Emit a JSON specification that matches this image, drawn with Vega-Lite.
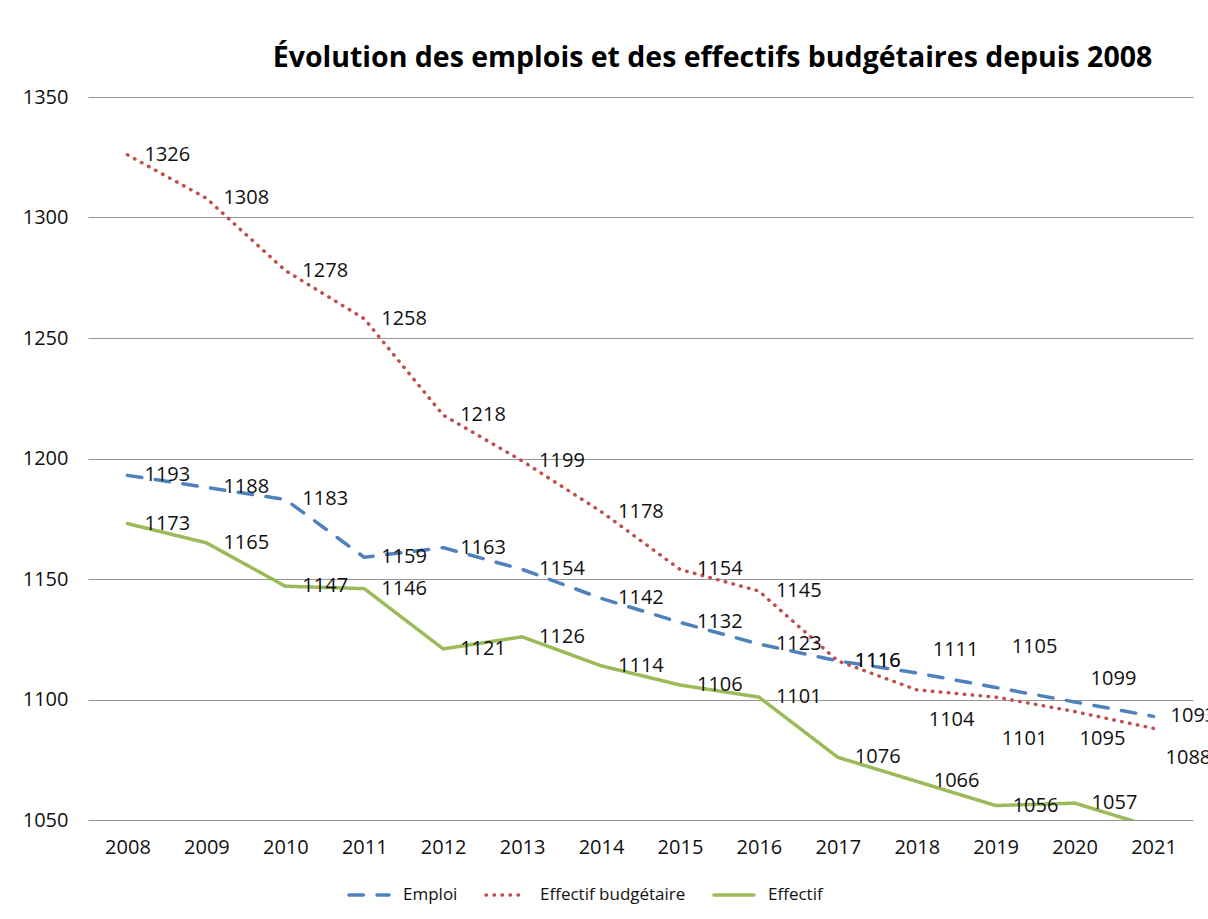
{
  "$schema": "https://vega.github.io/schema/vega-lite/v6.json",
  "autosize": {"type": "none"},
  "padding": {"left": 88, "top": 97, "right": 15, "bottom": 99},
  "width": 1105,
  "height": 723,
  "background": "white",
  "title": {
    "text": "Évolution des emplois et des effectifs budgétaires depuis 2008",
    "anchor": "middle",
    "frame": "group",
    "dx": 72,
    "offset": 15,
    "font": "Open Sans",
    "fontSize": 28.5,
    "fontWeight": "bold",
    "color": "#000000"
  },
  "data": {
    "values": [
      {"year": "2008", "series": "Emploi", "value": 1193},
      {"year": "2009", "series": "Emploi", "value": 1188},
      {"year": "2010", "series": "Emploi", "value": 1183},
      {"year": "2011", "series": "Emploi", "value": 1159},
      {"year": "2012", "series": "Emploi", "value": 1163},
      {"year": "2013", "series": "Emploi", "value": 1154},
      {"year": "2014", "series": "Emploi", "value": 1142},
      {"year": "2015", "series": "Emploi", "value": 1132},
      {"year": "2016", "series": "Emploi", "value": 1123},
      {"year": "2017", "series": "Emploi", "value": 1116},
      {"year": "2018", "series": "Emploi", "value": 1111},
      {"year": "2019", "series": "Emploi", "value": 1105},
      {"year": "2020", "series": "Emploi", "value": 1099},
      {"year": "2021", "series": "Emploi", "value": 1093},
      {"year": "2008", "series": "Effectif budgétaire", "value": 1326},
      {"year": "2009", "series": "Effectif budgétaire", "value": 1308},
      {"year": "2010", "series": "Effectif budgétaire", "value": 1278},
      {"year": "2011", "series": "Effectif budgétaire", "value": 1258},
      {"year": "2012", "series": "Effectif budgétaire", "value": 1218},
      {"year": "2013", "series": "Effectif budgétaire", "value": 1199},
      {"year": "2014", "series": "Effectif budgétaire", "value": 1178},
      {"year": "2015", "series": "Effectif budgétaire", "value": 1154},
      {"year": "2016", "series": "Effectif budgétaire", "value": 1145},
      {"year": "2017", "series": "Effectif budgétaire", "value": 1116},
      {"year": "2018", "series": "Effectif budgétaire", "value": 1104},
      {"year": "2019", "series": "Effectif budgétaire", "value": 1101},
      {"year": "2020", "series": "Effectif budgétaire", "value": 1095},
      {"year": "2021", "series": "Effectif budgétaire", "value": 1088},
      {"year": "2008", "series": "Effectif", "value": 1173},
      {"year": "2009", "series": "Effectif", "value": 1165},
      {"year": "2010", "series": "Effectif", "value": 1147},
      {"year": "2011", "series": "Effectif", "value": 1146},
      {"year": "2012", "series": "Effectif", "value": 1121},
      {"year": "2013", "series": "Effectif", "value": 1126},
      {"year": "2014", "series": "Effectif", "value": 1114},
      {"year": "2015", "series": "Effectif", "value": 1106},
      {"year": "2016", "series": "Effectif", "value": 1101},
      {"year": "2017", "series": "Effectif", "value": 1076},
      {"year": "2018", "series": "Effectif", "value": 1066},
      {"year": "2019", "series": "Effectif", "value": 1056},
      {"year": "2020", "series": "Effectif", "value": 1057},
      {"year": "2021", "series": "Effectif", "value": 1047}
    ]
  },
  "encoding": {
    "x": {
      "field": "year",
      "type": "ordinal",
      "scale": {"type": "point", "padding": 0.5},
      "axis": {
        "title": null,
        "ticks": false,
        "domain": false,
        "grid": false,
        "labelAngle": 0,
        "labelPadding": 17,
        "labelFont": "Open Sans",
        "labelFontSize": 20,
        "labelColor": "#111111"
      }
    },
    "y": {
      "field": "value",
      "type": "quantitative",
      "scale": {"domain": [1050, 1350], "nice": false, "zero": false},
      "axis": {
        "title": null,
        "format": "d",
        "values": [1050, 1100, 1150, 1200, 1250, 1300, 1350],
        "ticks": false,
        "domain": false,
        "grid": true,
        "gridColor": "#969696",
        "gridWidth": 1,
        "labelPadding": 20,
        "labelFont": "Open Sans",
        "labelFontSize": 20,
        "labelColor": "#111111"
      }
    }
  },
  "layer": [
    {
      "mark": {"type": "line", "strokeWidth": 3.5, "strokeCap": "round", "strokeJoin": "round", "clip": true},
      "encoding": {
        "color": {
          "field": "series",
          "type": "nominal",
          "scale": {
            "domain": ["Emploi", "Effectif budgétaire", "Effectif"],
            "range": ["#4F81BD", "#C0504D", "#9BBB59"]
          },
          "legend": {
            "orient": "none",
            "legendX": 259,
            "legendY": 776,
            "direction": "horizontal",
            "title": null,
            "symbolType": "stroke",
            "symbolSize": 1600,
            "symbolStrokeWidth": 3.5,
            "labelFont": "Open Sans",
            "labelFontSize": 17,
            "labelColor": "#111111",
            "labelOffset": 12,
            "columnPadding": 21,
            "encode": {"symbols": {"update": {"strokeCap": {"value": "round"}}}}
          }
        },
        "strokeDash": {
          "field": "series",
          "type": "nominal",
          "scale": {
            "domain": ["Emploi", "Effectif budgétaire", "Effectif"],
            "range": [[14.5, 13.5], [0.5, 7.5], [1, 0]]
          },
          "legend": {
            "orient": "none",
            "legendX": 259,
            "legendY": 776,
            "direction": "horizontal",
            "title": null,
            "symbolType": "stroke",
            "symbolSize": 1600,
            "symbolStrokeWidth": 3.5,
            "labelFont": "Open Sans",
            "labelFontSize": 17,
            "labelColor": "#111111",
            "labelOffset": 12,
            "columnPadding": 21,
            "encode": {"symbols": {"update": {"strokeCap": {"value": "round"}}}}
          }
        }
      }
    },
    {
      "transform": [
        {"filter": "datum.value >= 1050 && !(datum.series === 'Emploi' && indexof(['2018','2019','2020'], datum.year) >= 0) && !(datum.series === 'Effectif budgétaire' && indexof(['2018','2019','2020','2021'], datum.year) >= 0)"}
      ],
      "mark": {"type": "text", "align": "left", "baseline": "middle", "dx": 17, "dy": 0, "font": "Open Sans", "fontSize": 20, "color": "#111111"},
      "encoding": {"text": {"field": "value", "type": "quantitative", "format": "d"}}
    },
    {
      "transform": [
        {"filter": "datum.series === 'Emploi' && indexof(['2018','2020'], datum.year) >= 0"}
      ],
      "mark": {"type": "text", "align": "left", "baseline": "middle", "dx": 16, "dy": -23, "font": "Open Sans", "fontSize": 20, "color": "#111111"},
      "encoding": {"text": {"field": "value", "type": "quantitative", "format": "d"}}
    },
    {
      "transform": [
        {"filter": "datum.series === 'Emploi' && datum.year === '2019'"}
      ],
      "mark": {"type": "text", "align": "left", "baseline": "middle", "dx": 16, "dy": -40, "font": "Open Sans", "fontSize": 20, "color": "#111111"},
      "encoding": {"text": {"field": "value", "type": "quantitative", "format": "d"}}
    },
    {
      "transform": [
        {"filter": "datum.series === 'Effectif budgétaire' && indexof(['2018','2021'], datum.year) >= 0"}
      ],
      "mark": {"type": "text", "align": "left", "baseline": "middle", "dx": 12, "dy": 30, "font": "Open Sans", "fontSize": 20, "color": "#111111"},
      "encoding": {"text": {"field": "value", "type": "quantitative", "format": "d"}}
    },
    {
      "transform": [
        {"filter": "datum.series === 'Effectif budgétaire' && datum.year === '2019'"}
      ],
      "mark": {"type": "text", "align": "left", "baseline": "middle", "dx": 6, "dy": 42, "font": "Open Sans", "fontSize": 20, "color": "#111111"},
      "encoding": {"text": {"field": "value", "type": "quantitative", "format": "d"}}
    },
    {
      "transform": [
        {"filter": "datum.series === 'Effectif budgétaire' && datum.year === '2020'"}
      ],
      "mark": {"type": "text", "align": "left", "baseline": "middle", "dx": 5, "dy": 27, "font": "Open Sans", "fontSize": 20, "color": "#111111"},
      "encoding": {"text": {"field": "value", "type": "quantitative", "format": "d"}}
    }
  ],
  "config": {
    "view": {"stroke": null}
  }
}
